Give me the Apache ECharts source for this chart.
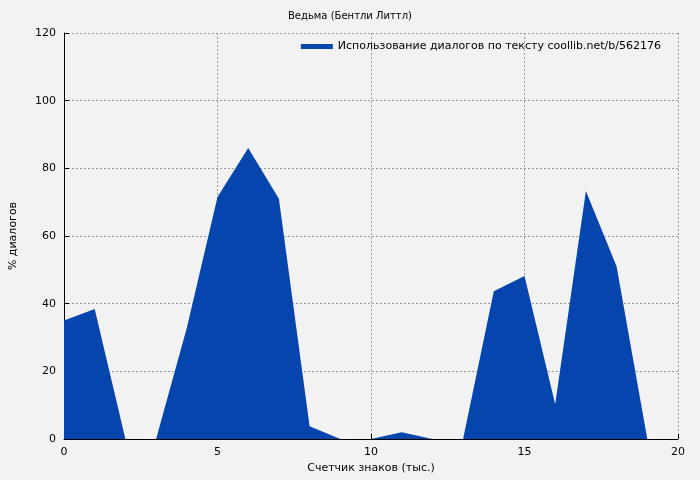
<!DOCTYPE html>
<html>
<head>
    <meta charset="utf-8">
    <title>ECharts</title>
    <script src="https://cdn.jsdelivr.net/npm/echarts@6/dist/echarts.min.js"></script>
</head>
<body style="margin:0;background:#f2f2f2;">
<div id="main" style="width: 700px;height:480px;"></div>
<script type="text/javascript">
    // значения
    var xValues = [0, 1, 2, 3, 4, 5, 6, 7, 8, 9, 10, 11, 12, 13, 14, 15, 16, 17, 18, 19];
    var dialogPct = [35, 38.4, 0, 0, 32.8, 71.5, 86, 71, 3.8, 0, 0, 2, 0, 0, 43.7, 48.2, 10.3, 73.3, 51, 0];
    var seriesName = 'Использование диалогов по тексту coollib.net/b/562176';

    var data = [];
    for (var i = 0; i < xValues.length; i++) {
        data.push([xValues[i], dialogPct[i]]);
    }

    var myChart = echarts.init(document.getElementById('main'));
    var dashed = {show: true, lineStyle: {color: '#999', type: [2, 2], width: 1}};
    var txt = {color: '#000', fontFamily: 'DejaVu Sans', fontSize: 11};
    option = {
        backgroundColor: '#f2f2f2',
        animation: false,
        title: {
            text: 'Ведьма (Бентли Литтл)',
            left: 'center', top: 6,
            textStyle: {color: '#000', fontFamily: 'DejaVu Sans', fontSize: 10, fontWeight: 'normal'}
        },
        legend: {
            data: [{name: seriesName, icon: 'rect'}],
            right: 34, top: 36,
            itemWidth: 32, itemHeight: 5,
            align: 'left',
            textStyle: txt
        },
        grid: {left: 61, right: 22, top: 33, bottom: 41},
        xAxis: {
            type: 'value', min: 0, max: 20, interval: 5,
            name: 'Счетчик знаков (тыс.)', nameLocation: 'middle', nameGap: 24,
            nameTextStyle: txt,
            axisLine: {show: true, lineStyle: {color: '#000'}},
            axisTick: {inside: true, lineStyle: {color: '#000'}},
            axisLabel: txt,
            splitLine: dashed
        },
        yAxis: {
            type: 'value', min: 0, max: 120, interval: 20,
            name: '% диалогов', nameLocation: 'middle', nameGap: 45,
            nameTextStyle: txt,
            axisLine: {show: true, lineStyle: {color: '#000'}},
            axisTick: {show: true, inside: true, lineStyle: {color: '#000'}},
            axisLabel: txt,
            splitLine: dashed
        },
        series: [{
            name: seriesName,
            type: 'line',
            data: data,
            symbol: 'none',
            lineStyle: {width: 0},
            itemStyle: {color: '#0645ad'},
            areaStyle: {color: '#0645ad', opacity: 1}
        }]
    };
    myChart.setOption(option);
</script>
</body>
</html>
